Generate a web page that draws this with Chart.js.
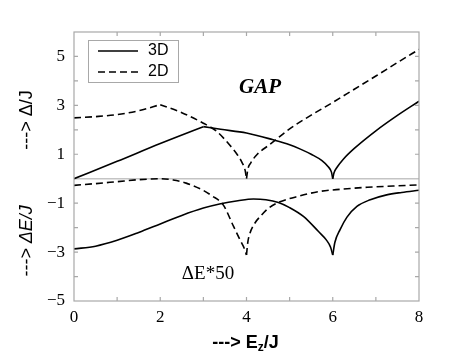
<!DOCTYPE html>
<html>
<head>
<meta charset="utf-8">
<script src="https://cdn.jsdelivr.net/npm/chart.js@4"></script>
<style>
  html, body { margin: 0; padding: 0; background: #fff; }
  canvas { display: block; }
</style>
</head>
<body>
<canvas id="gapChart" width="463" height="360"></canvas>
<script>
// Upper panel: gap Delta/J
const gap3dX = [0, 1, 2, 3, 3.4, 4, 4.6, 5, 5.25, 5.5, 5.75, 5.9, 5.97, 6, 6.03, 6.1, 6.25, 6.5, 7, 7.5, 8];
const gap3dY = [0, 0.71, 1.44, 2.13, 2.02, 1.87, 1.6, 1.39, 1.21, 1.0, 0.74, 0.48, 0.27, 0, 0.24, 0.47, 0.81, 1.24, 1.96, 2.59, 3.17];
const gap2dX = [0, 0.5, 1, 1.5, 2, 2.5, 3, 3.3, 3.6, 3.8, 3.9, 3.97, 4, 4.03, 4.1, 4.25, 4.5, 4.66, 5, 5.5, 6, 6.5, 7, 7.5, 8];
const gap2dY = [2.49, 2.54, 2.62, 2.78, 3.03, 2.7, 2.27, 1.95, 1.4, 0.95, 0.65, 0.33, 0, 0.38, 0.65, 1.0, 1.35, 1.57, 2.04, 2.6, 3.12, 3.66, 4.2, 4.75, 5.29];
// Lower panel: energy difference DeltaE/J (scaled by 50)
const de3dX = [0, 0.5, 1, 1.5, 2, 2.5, 3, 3.4, 3.8, 4.16, 4.45, 4.74, 5, 5.32, 5.67, 5.85, 5.95, 6, 6.05, 6.17, 6.33, 6.56, 6.87, 7.25, 7.6, 8];
const de3dY = [-2.87, -2.76, -2.52, -2.2, -1.85, -1.5, -1.2, -1.02, -0.9, -0.83, -0.86, -0.97, -1.18, -1.54, -2.16, -2.5, -2.8, -3.12, -2.6, -2.08, -1.57, -1.13, -0.86, -0.66, -0.56, -0.47];
const de2dX = [0, 0.5, 1, 1.5, 2, 2.3, 2.6, 3, 3.2, 3.46, 3.7, 3.85, 3.95, 4, 4.03, 4.08, 4.2, 4.32, 4.5, 4.74, 5.24, 5.7, 6.2, 6.8, 7.4, 8];
const de2dY = [-0.27, -0.2, -0.12, -0.04, 0, -0.05, -0.18, -0.48, -0.7, -1.07, -1.95, -2.5, -2.85, -3.12, -2.6, -2.23, -1.8, -1.54, -1.22, -0.97, -0.7, -0.52, -0.43, -0.35, -0.3, -0.25];

// corners / cusps where the curves are not smooth
const gap3dBreaks = [3, 6];
const gap2dBreaks = [2, 4];
const de3dBreaks = [6];
const de2dBreaks = [4];

const xTicks = [0, 2, 4, 6, 8];
const yTicks = [5, 3, 1, -1, -3, -5];

const DASH = [7, 4];
const frameColor = '#a8a8a8';

// split a curve into smooth pieces at its corners
function pieces(xs, ys, breaks) {
  const out = [];
  let cur = [];
  xs.forEach((x, i) => {
    cur.push({ x: x, y: ys[i] });
    if (breaks.includes(x)) {
      out.push(cur);
      cur = [{ x: x, y: ys[i] }];
    }
  });
  if (cur.length > 1) out.push(cur);
  return out;
}

function lineSets(label, xs, ys, breaks, dashed) {
  return pieces(xs, ys, breaks).map(p => ({
    label: label,
    data: p,
    showLine: true,
    borderColor: '#000',
    borderWidth: 1.6,
    borderDash: dashed ? DASH : [],
    pointRadius: 0,
    cubicInterpolationMode: 'monotone',
    fill: false
  }));
}

const decor = {
  id: 'decor',
  afterDraw(chart) {
    const ctx = chart.ctx;
    const a = chart.chartArea;
    const xs = chart.scales.x, ys = chart.scales.y;
    ctx.save();

    // frame + inward ticks
    ctx.strokeStyle = frameColor;
    ctx.lineWidth = 1.2;
    ctx.strokeRect(a.left, a.top, a.right - a.left, a.bottom - a.top);
    ctx.beginPath();
    for (let v = 1; v < 8; v++) {
      const px = xs.getPixelForValue(v);
      ctx.moveTo(px, a.bottom); ctx.lineTo(px, a.bottom - 4);
      ctx.moveTo(px, a.top); ctx.lineTo(px, a.top + 4);
    }
    for (let v = -4; v <= 5; v++) {
      if (v === 0) continue;
      const py = ys.getPixelForValue(v);
      ctx.moveTo(a.left, py); ctx.lineTo(a.left + 4, py);
      ctx.moveTo(a.right, py); ctx.lineTo(a.right - 4, py);
    }
    ctx.stroke();

    // legend
    ctx.strokeStyle = frameColor;
    ctx.lineWidth = 1;
    ctx.strokeRect(88.5, 40.5, 90, 42);
    ctx.strokeStyle = '#000';
    ctx.lineWidth = 1.6;
    ctx.beginPath(); ctx.moveTo(98, 51); ctx.lineTo(138, 51); ctx.stroke();
    ctx.setLineDash(DASH);
    ctx.beginPath(); ctx.moveTo(98, 72); ctx.lineTo(138, 72); ctx.stroke();
    ctx.setLineDash([]);
    ctx.fillStyle = '#000';
    ctx.font = '16px "Liberation Sans", Arial, sans-serif';
    ctx.textBaseline = 'middle';
    ctx.textAlign = 'left';
    ctx.fillText('3D', 148, 51);
    ctx.fillText('2D', 148, 72);

    // annotations
    ctx.font = 'italic bold 21px "Liberation Serif", "Times New Roman", serif';
    ctx.textAlign = 'center';
    ctx.fillText('GAP', 260, 88);
    ctx.font = '19px "Liberation Serif", "Times New Roman", serif';
    ctx.fillText('\u0394E*50', 208, 274);

    // axis titles
    ctx.font = 'bold 18px "Liberation Sans", Arial, sans-serif';
    ctx.fillText('---> E', 235, 343);
    const w1 = ctx.measureText('---> E').width;
    ctx.textAlign = 'left';
    ctx.font = 'bold 12px "Liberation Sans", Arial, sans-serif';
    ctx.fillText('z', 235 + w1 / 2, 348);
    const wz = ctx.measureText('z').width;
    ctx.font = 'bold 18px "Liberation Sans", Arial, sans-serif';
    ctx.fillText('/J', 235 + w1 / 2 + wz, 343);

    ctx.save();
    ctx.translate(27, 120);
    ctx.rotate(-Math.PI / 2);
    ctx.textAlign = 'center';
    ctx.font = '18px "Liberation Sans", Arial, sans-serif';
    ctx.fillText('---> \u0394/J', 0, 0);
    ctx.restore();

    ctx.save();
    ctx.translate(27, 241);
    ctx.rotate(-Math.PI / 2);
    ctx.textAlign = 'center';
    ctx.font = 'italic 18px "Liberation Sans", Arial, sans-serif';
    ctx.fillText('---> \u0394E/J', 0, 0);
    ctx.restore();

    ctx.restore();
  }
};

new Chart(document.getElementById('gapChart'), {
  type: 'scatter',
  data: {
    datasets: [
      ...lineSets('3D', gap3dX, gap3dY, gap3dBreaks, false),
      ...lineSets('2D', gap2dX, gap2dY, gap2dBreaks, true),
      ...lineSets('3D dE', de3dX, de3dY, de3dBreaks, false),
      ...lineSets('2D dE', de2dX, de2dY, de2dBreaks, true)
    ]
  },
  options: {
    responsive: false,
    animation: false,
    devicePixelRatio: 1,
    layout: { padding: { left: 0, right: 44, top: 32, bottom: 0 } },
    plugins: { legend: { display: false }, tooltip: { enabled: false } },
    scales: {
      x: {
        type: 'linear', min: 0, max: 8,
        afterFit: s => { s.height = 59; },
        afterBuildTicks: s => { s.ticks = xTicks.map(v => ({ value: v })); },
        ticks: {
          color: '#000', padding: 6,
          font: { family: '"Liberation Serif", "Times New Roman", serif', size: 17 }
        },
        grid: { drawOnChartArea: false, drawTicks: false },
        border: { display: false }
      },
      y: {
        min: -5, max: 6,
        afterFit: s => { s.width = 74; },
        afterBuildTicks: s => { s.ticks = yTicks.concat([0]).map(v => ({ value: v })); },
        ticks: {
          color: '#000', padding: 9,
          font: { family: '"Liberation Serif", "Times New Roman", serif', size: 17 },
          callback: v => v === 0 ? '' : String(v).replace('-', '\u2212')
        },
        grid: {
          drawTicks: false,
          color: c => (c.tick && c.tick.value === 0) ? '#c4c4c4' : 'rgba(0,0,0,0)',
          lineWidth: 1.5
        },
        border: { display: false }
      }
    }
  },
  plugins: [decor]
});
</script>
</body>
</html>
